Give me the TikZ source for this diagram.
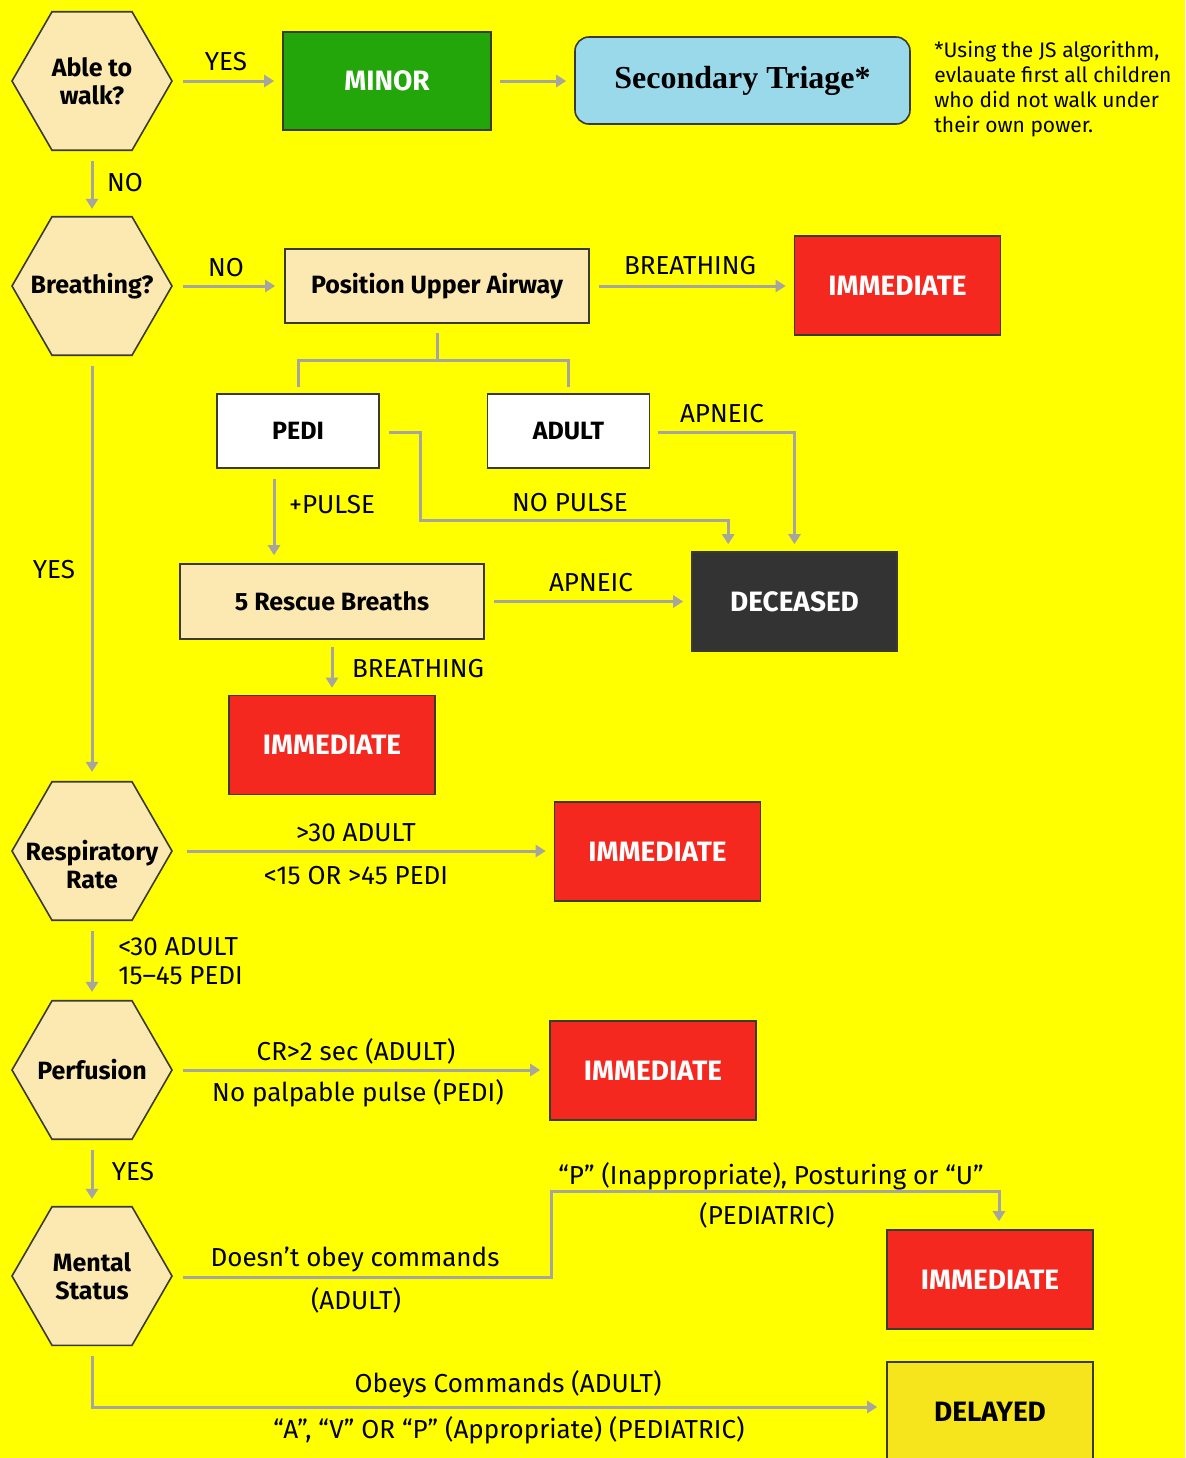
\documentclass[tikz,border=0pt]{standalone}
\usepackage{fontspec}
\setmainfont{Fira Sans}
\newfontfamily\serifbf{Liberation Serif}
\usetikzlibrary{shapes.geometric,arrows.meta,calc}
\definecolor{bgc}{HTML}{FFFF00}
\definecolor{cream}{HTML}{FCE9B2}
\definecolor{greenc}{HTML}{22A60A}
\definecolor{bluec}{HTML}{9AD9EA}
\definecolor{redc}{HTML}{F5281F}
\definecolor{darkc}{HTML}{333333}
\definecolor{delc}{HTML}{F6E41C}
\definecolor{linec}{HTML}{A6A69E}
\definecolor{bordc}{HTML}{3A3A30}
\begin{document}
\begin{tikzpicture}[x=0.5pt,y=-0.5pt,
  box/.style={draw=bordc, line width=0.8pt, inner sep=0pt, font=\fontsize{14}{16}\selectfont\bfseries},
  wbox/.style={box, fill=white, font=\fontsize{12.5}{15}\selectfont\bfseries, minimum width=81pt, minimum height=37pt},
  cbox/.style={box, fill=cream, font=\fontsize{12.5}{15}\selectfont\bfseries, minimum width=152pt, minimum height=37pt},
  imm/.style={box, fill=redc, text=white, minimum width=103pt, minimum height=49.5pt},
  hex/.style={regular polygon, regular polygon sides=6, regular polygon rotate=0, minimum size=80pt, inner sep=0pt, draw=bordc, line width=0.8pt, fill=cream},
  hexlbl/.style={align=center, font=\fontsize{12.5}{14}\selectfont\bfseries, inner sep=0pt},
  conn/.style={draw=linec, line width=1.5pt},
  arr/.style={conn, -{Triangle[length=5pt,width=6pt]}},
  lbl/.style={font=\fontsize{13}{15}\selectfont, inner sep=0pt}
]
\useasboundingbox (0,0) rectangle (1185,1458);
\fill[bgc] (0,0) rectangle (1185,1458);

% hexagons
\node[hex, label={[hexlbl]center:{Able to\\walk?}}] (walk) at (92,81) {};
\node[hex, label={[hexlbl]center:{Breathing?}}] (breath) at (92,286) {};
\node[hex, label={[hexlbl, yshift=-7pt]center:{Respiratory\\Rate}}] (resp) at (92,851) {};
\node[hex, label={[hexlbl]center:{Perfusion}}] (perf) at (92,1070) {};
\node[hex, label={[hexlbl]center:{Mental\\Status}}] (ment) at (92,1276) {};

% boxes
\node[box, fill=greenc, text=white, minimum width=104pt, minimum height=49pt] (minor) at (387,81) {MINOR};
\node[box, fill=bluec, rounded corners=7pt, minimum width=167.5pt, minimum height=43.5pt, font=\fontsize{16}{18}\selectfont\serifbf\bfseries] (sec) at (742.5,80.5) {Secondary Triage*};
\node[anchor=north west, align=left, inner sep=0pt, font=\fontsize{10.5}{12.5}\selectfont] (note) at (934,41) {*Using the JS algorithm,\\ evlauate first all children\\ who did not walk under\\ their own power.};
\node[cbox] (pua) at (437,286) {Position Upper Airway};
\node[imm] (imm1) at (897.5,285.5) {IMMEDIATE};
\node[wbox] (pedi) at (298,431) {PEDI};
\node[wbox] (adult) at (568.5,431) {ADULT};
\node[box, fill=darkc, text=white, minimum width=102.5pt, minimum height=49.5pt] (dec) at (794.5,601.5) {DECEASED};
\node[cbox, minimum height=37.5pt] (resc) at (332,601.5) {5 Rescue Breaths};
\node[imm] (imm2) at (332,745) {IMMEDIATE};
\node[imm] (imm3) at (657.5,851.5) {IMMEDIATE};
\node[imm] (imm4) at (653,1070.5) {IMMEDIATE};
\node[imm] (imm5) at (990,1279.5) {IMMEDIATE};
\node[box, fill=delc, text=black, minimum width=103pt, minimum height=50pt, font=\fontsize{14}{16}\selectfont\bfseries] (delayed) at (990,1412) {DELAYED};

% connectors
\draw[arr, shorten <=5pt, shorten >=4pt] (walk.east) -- (walk.east -| minor.west);
\draw[arr, shorten <=4pt, shorten >=4pt] (minor.east) -- (minor.east -| sec.west);
\draw[arr, shorten <=5pt, shorten >=3.5pt] (walk.south) -- (breath.north);
\draw[arr, shorten <=5pt, shorten >=4.5pt] (breath.east) -- (breath.east -| pua.west);
\draw[arr, shorten <=4.5pt, shorten >=4pt] (pua.east) -- (pua.east -| imm1.west);
\draw[conn] ($(pua.south)+(0,9)$) -- ++(0,28) coordinate (tj);
\draw[conn] ($(pedi.north)+(0,-6)$) |- (tj) -| ($(adult.north)+(0,-6)$);
\draw[arr, shorten <=5pt, shorten >=4pt] ([xshift=-12pt]pedi.south) -- ([xshift=-12pt]pedi.south |- resc.north);
\draw[arr] ($(pedi.east)+(9,1)$) -- ++(32,0) |- ($(dec.north west)+(37,-31)$) -- ($(dec.north west)+(37,-7)$);
\draw[arr] ($(adult.east)+(8,1)$) -| ($(dec.north)+(0,-7)$);
\draw[arr, shorten <=4.5pt, shorten >=4pt] (resc.east) -- (resc.east -| dec.west);
\draw[arr, shorten <=3.5pt, shorten >=3.5pt] (resc.south) -- (resc.south |- imm2.north);
\draw[arr, shorten <=5pt, shorten >=4.5pt] (breath.south) -- (resp.north);
\draw[arr, shorten <=7pt, shorten >=4pt] (resp.east) -- (resp.east -| imm3.west);
\draw[arr, shorten <=5pt, shorten >=4pt] (resp.south) -- (perf.north);
\draw[arr, shorten <=5pt, shorten >=4.5pt] (perf.east) -- (perf.east -| imm4.west);
\draw[arr, shorten <=5pt, shorten >=3.5pt] (perf.south) -- (ment.north);
\draw[arr] ($(ment.east)+(10,1)$) -- ++(369,0) |- ($(imm5.north)+(9,-38)$) -- ($(imm5.north)+(9,-8)$);
\draw[arr] ($(ment.south)+(0,10)$) |- ($(delayed.west)+(-9,-5)$);

% labels
\node[lbl] at (226,62) {YES};
\node[lbl] at (125,183) {NO};
\node[lbl] at (226,268) {NO};
\node[lbl] at (690,266) {BREATHING};
\node[lbl] at (722,414) {APNEIC};
\node[lbl] at (332,505) {+PULSE};
\node[lbl] at (570,503) {NO PULSE};
\node[lbl] at (591,583) {APNEIC};
\node[lbl] at (418,669) {BREATHING};
\node[lbl] at (54,570) {YES};
\node[lbl] at (356,833) {>30 ADULT};
\node[lbl] at (356,876) {<15 OR >45 PEDI};
\node[lbl, anchor=west] at (118,947) {<30 ADULT};
\node[lbl, anchor=west] at (118,976) {15–45 PEDI};
\node[lbl] at (356,1051) {CR>2 sec (ADULT)};
\node[lbl] at (358,1093) {No palpable pulse (PEDI)};
\node[lbl] at (133,1172) {YES};
\node[lbl] at (355,1259) {Doesn’t obey commands};
\node[lbl] at (356,1300) {(ADULT)};
\node[lbl] at (771,1176) {“P” (Inappropriate), Posturing or “U”};
\node[lbl] at (767,1215) {(PEDIATRIC)};
\node[lbl] at (508,1384) {Obeys Commands (ADULT)};
\node[lbl] at (509,1430) {“A”, “V” OR “P” (Appropriate) (PEDIATRIC)};
\end{tikzpicture}
\end{document}
